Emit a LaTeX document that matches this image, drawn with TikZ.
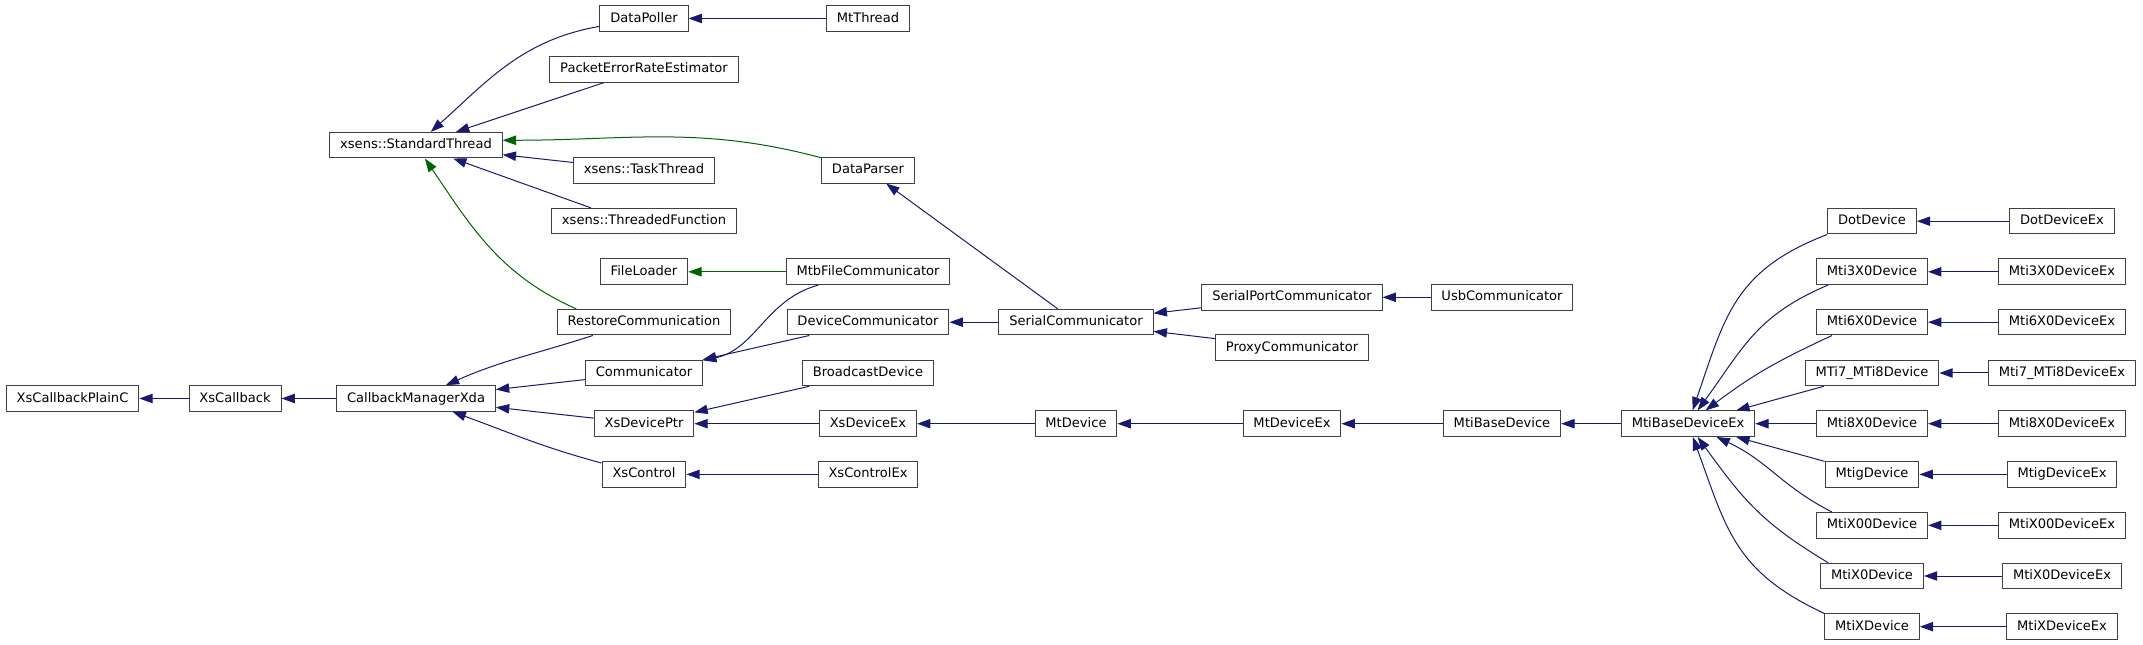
\documentclass[tikz,border=0pt]{standalone}
\usepackage{fontspec}
\setmainfont{DejaVu Sans}
\usepackage{tikz}
\usetikzlibrary{arrows.meta}
\definecolor{cpub}{RGB}{25,25,112}
\definecolor{cprot}{RGB}{0,100,0}

\begin{document}
\begin{tikzpicture}[x=0.75pt,y=0.75pt,font=\fontsize{9.8}{11}\selectfont,
  cls/.style={draw=black!75,line width=0.75pt,fill=white,inner xsep=7.8pt,inner ysep=0pt,minimum height=19.2pt,text height=7.2pt,text depth=1.9pt},
  pub/.style={-{Triangle[length=10pt,width=7pt]},cpub,line width=0.75pt},
  prot/.style={-{Triangle[length=10pt,width=7pt]},cprot,line width=0.75pt},
]
\useasboundingbox (0,0) rectangle (2143,-645);
% callback chain
\node[cls] (cbpc) at (72.5,-398.5) {XsCallbackPlainC};
\node[cls] (cb) at (235,-398.5) {XsCallback};
\node[cls] (cbm) at (416,-398.5) {CallbackManagerXda};
\node[cls] (stdthr) at (416,-145.2) {xsens::StandardThread};
% third column
\node[cls] (poller) at (644,-18.5) {DataPoller};
\node[cls] (perest) at (644,-69.3) {PacketErrorRateEstimator};
\node[cls] (task) at (644,-170.3) {xsens::TaskThread};
\node[cls] (thrfun) at (644,-221.2) {xsens::ThreadedFunction};
\node[cls] (fload) at (644,-271.8) {FileLoader};
\node[cls] (restore) at (644,-322.2) {RestoreCommunication};
\node[cls] (comm) at (644,-373) {Communicator};
\node[cls] (devptr) at (644,-423.7) {XsDevicePtr};
\node[cls] (ctrl) at (644,-474.4) {XsControl};
% fourth column
\node[cls] (mtthr) at (868,-18.5) {MtThread};
\node[cls] (parser) at (868,-170.3) {DataParser};
\node[cls] (mtbfile) at (868,-271.8) {MtbFileCommunicator};
\node[cls] (devcomm) at (868,-322.2) {DeviceCommunicator};
\node[cls] (bcast) at (868,-373) {BroadcastDevice};
\node[cls] (devex) at (868,-423.7) {XsDeviceEx};
\node[cls] (ctrlex) at (868,-474.4) {XsControlEx};
% communicators and devices
\node[cls] (sercomm) at (1076,-322.2) {SerialCommunicator};
\node[cls] (mtdev) at (1076,-423.7) {MtDevice};
\node[cls] (spcomm) at (1292,-297.3) {SerialPortCommunicator};
\node[cls] (proxy) at (1292,-347.7) {ProxyCommunicator};
\node[cls] (mtdevex) at (1292,-423.7) {MtDeviceEx};
\node[cls] (usb) at (1502,-297.3) {UsbCommunicator};
\node[cls] (mtibase) at (1502,-423.7) {MtiBaseDevice};
\node[cls] (mtibasex) at (1688,-423.7) {MtiBaseDeviceEx};
% device families
\node[cls] (dotdev) at (1872,-221.2) {DotDevice};
\node[cls] (m3x0) at (1872,-271.8) {Mti3X0Device};
\node[cls] (m6x0) at (1872,-322.2) {Mti6X0Device};
\node[cls] (m7m8) at (1872,-373) {MTi7\_MTi8Device};
\node[cls] (m8x0) at (1872,-423.7) {Mti8X0Device};
\node[cls] (mtig) at (1872,-474.4) {MtigDevice};
\node[cls] (mx00) at (1872,-525.3) {MtiX00Device};
\node[cls] (mx0) at (1872,-576) {MtiX0Device};
\node[cls] (mx) at (1872,-626.7) {MtiXDevice};
\node[cls] (dotdevex) at (2062,-221.2) {DotDeviceEx};
\node[cls] (m3x0ex) at (2062,-271.8) {Mti3X0DeviceEx};
\node[cls] (m6x0ex) at (2062,-322.2) {Mti6X0DeviceEx};
\node[cls] (m7m8ex) at (2062,-373) {Mti7\_MTi8DeviceEx};
\node[cls] (m8x0ex) at (2062,-423.7) {Mti8X0DeviceEx};
\node[cls] (mtigex) at (2062,-474.4) {MtigDeviceEx};
\node[cls] (mx00ex) at (2062,-525.3) {MtiX00DeviceEx};
\node[cls] (mx0ex) at (2062,-576) {MtiX0DeviceEx};
\node[cls] (mxex) at (2062,-626.7) {MtiXDeviceEx};

% inheritance
\draw[pub] (cb) -- (cbpc);
\draw[pub] (cbm) -- (cb);
\draw[pub] ([xshift=27pt]restore.south west) to[out=198,in=24] (cbm);
\draw[pub] (comm) -- (cbm);
\draw[pub] (devptr) -- (cbm);
\draw[pub] (ctrl) to[out=165,in=-20] (cbm);
\draw[pub] (poller) to[out=190,in=42] (stdthr);
\draw[pub] (perest) -- (stdthr);
\draw[prot] (parser) to[out=165,in=0] ([yshift=3.7pt]stdthr.east);
\draw[pub] (task) -- (stdthr);
\draw[pub] ([xshift=30pt]thrfun.north west) -- (stdthr);
\draw[prot] ([xshift=14.6pt]restore.north west) to[out=156,in=-56] (stdthr);
\draw[pub] (mtthr) -- (poller);
\draw[prot] (mtbfile) -- (fload);
\draw[pub] (mtbfile) to[out=195,in=12] (comm);
\draw[pub] (devcomm) -- (comm);
\draw[pub] (sercomm) -- (parser);
\draw[pub] (sercomm) -- (devcomm);
\draw[pub] (spcomm) -- (sercomm);
\draw[pub] (proxy) -- (sercomm);
\draw[pub] (usb) -- (spcomm);
\draw[pub] (bcast) -- (devptr);
\draw[pub] (devex) -- (devptr);
\draw[pub] (ctrlex) -- (ctrl);
\draw[pub] (mtdev) -- (devex);
\draw[pub] (mtdevex) -- (mtdev);
\draw[pub] (mtibase) -- (mtdevex);
\draw[pub] (mtibasex) -- (mtibase);
\draw[pub] (dotdev.south west) to[out=201,in=71,looseness=1.15] (mtibasex);
\draw[pub] ([xshift=9pt]m3x0.south west) to[out=203,in=54,looseness=1.1] (mtibasex);
\draw[pub] ([xshift=12pt]m6x0.south west) to[out=205,in=37,looseness=1.05] (mtibasex);
\draw[pub] (m7m8) -- (mtibasex);
\draw[pub] (m8x0) -- (mtibasex);
\draw[pub] (mtig) -- (mtibasex);
\draw[pub] ([xshift=12pt]mx00.north west) to[out=153,in=-25,looseness=1.05] (mtibasex);
\draw[pub] ([xshift=6pt]mx0.north west) to[out=149,in=-54,looseness=1.1] (mtibasex);
\draw[pub] (mx.north west) to[out=155,in=-70,looseness=1.15] (mtibasex);
\draw[pub] (dotdevex) -- (dotdev);
\draw[pub] (m3x0ex) -- (m3x0);
\draw[pub] (m6x0ex) -- (m6x0);
\draw[pub] (m7m8ex) -- (m7m8);
\draw[pub] (m8x0ex) -- (m8x0);
\draw[pub] (mtigex) -- (mtig);
\draw[pub] (mx00ex) -- (mx00);
\draw[pub] (mx0ex) -- (mx0);
\draw[pub] (mxex) -- (mx);
\end{tikzpicture}
\end{document}
